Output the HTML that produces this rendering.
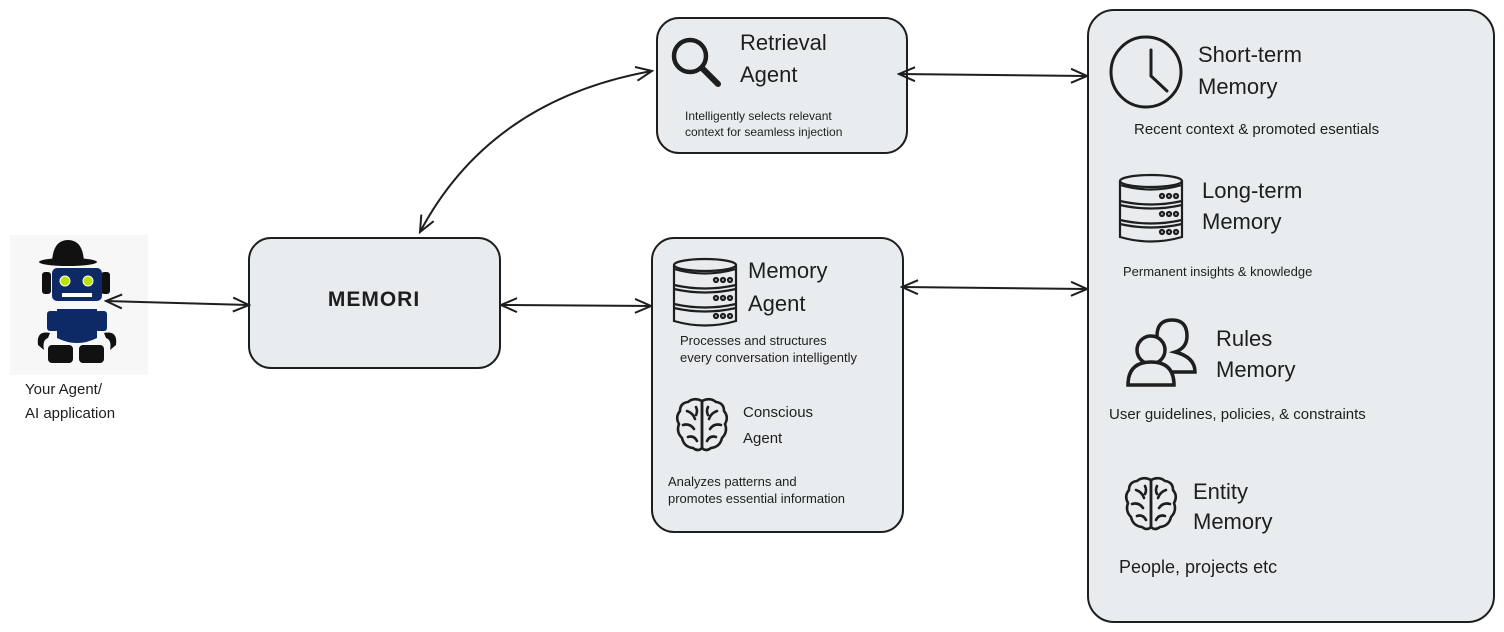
<!DOCTYPE html>
<html><head><meta charset="utf-8"><style>
html,body{margin:0;padding:0;background:#fff;}
svg{display:block;}
text{font-family:"Liberation Sans",sans-serif;fill:#1e1e1e;}
.t{font-size:22px;}
.s{font-size:13px;}
.m{font-size:15px;}
</style></head><body>
<svg width="1504" height="632" viewBox="0 0 1504 632" xmlns="http://www.w3.org/2000/svg">
<defs>
<g id="db" fill="none" stroke="#1e1e1e" stroke-width="2.2">
  <ellipse cx="32" cy="7" rx="31" ry="6"/>
  <path d="M1 7 V63 Q32 72 63 63 V7"/>
  <path d="M1 11 Q32 20 63 11"/>
  <path d="M1 27 Q32 34 63 27"/>
  <path d="M1 31 Q32 38 63 31"/>
  <path d="M1 46 Q32 53 63 46"/>
  <path d="M1 50 Q32 57 63 50"/>
  <circle cx="43" cy="22" r="2"/><circle cx="50" cy="22" r="2"/><circle cx="57" cy="22" r="2"/>
  <circle cx="43" cy="40" r="2"/><circle cx="50" cy="40" r="2"/><circle cx="57" cy="40" r="2"/>
  <circle cx="43" cy="58" r="2"/><circle cx="50" cy="58" r="2"/><circle cx="57" cy="58" r="2"/>
</g>
<g id="brain" fill="none" stroke="#1e1e1e" stroke-width="2.6" stroke-linecap="round">
  <path d="M26 4 Q18 0 12 5 Q4 6 4 14 Q-1 20 3 27 Q0 35 6 41 Q8 50 17 51 Q22 55 26 51 Z"/>
  <path d="M26 4 Q34 0 40 5 Q48 6 48 14 Q53 20 49 27 Q52 35 46 41 Q44 50 35 51 Q30 55 26 51 Z"/>
  <path d="M11 14 Q17 16 19 22 M7 28 Q14 26 18 32 M12 40 Q18 38 21 44 M20 10 Q22 14 20 18"/>
  <path d="M41 14 Q35 16 33 22 M45 28 Q38 26 34 32 M40 40 Q34 38 31 44 M32 10 Q30 14 32 18"/>
</g>
<marker id="ah" viewBox="0 0 20 20" refX="18" refY="10" markerWidth="20" markerHeight="20" markerUnits="userSpaceOnUse" orient="auto-start-reverse">
  <path d="M2 3 L18 10 L2 17" fill="none" stroke="#1e1e1e" stroke-width="2"/>
</marker>
</defs>

<!-- boxes -->
<g fill="#e9ecef" stroke="#1e1e1e" stroke-width="2">
  <rect x="657" y="18" width="250" height="135" rx="22"/>
  <rect x="249" y="238" width="251" height="130" rx="22"/>
  <rect x="652" y="238" width="251" height="294" rx="22"/>
  <rect x="1088" y="10" width="406" height="612" rx="26"/>
</g>

<!-- robot -->
<g>
  <rect x="10" y="235" width="138" height="140" fill="#f7f7f7"/>
  <path d="M52 262 Q53 240 68 240 Q83 240 84 262 Z" fill="#111"/>
  <ellipse cx="68" cy="262" rx="29" ry="4" fill="#111"/>
  <rect x="42" y="272" width="9" height="22" rx="3" fill="#111"/>
  <rect x="101" y="272" width="9" height="22" rx="3" fill="#111"/>
  <rect x="52" y="268" width="50" height="33" rx="5" fill="#0d2a66"/>
  <circle cx="65" cy="281" r="5" fill="#b8e600" stroke="#fff" stroke-width="1"/>
  <circle cx="88" cy="281" r="5" fill="#b8e600" stroke="#fff" stroke-width="1"/>
  <rect x="62" y="293" width="30" height="4" fill="#fff"/>
  <rect x="47" y="311" width="12" height="20" rx="3" fill="#0d2a66"/>
  <rect x="95" y="311" width="12" height="20" rx="3" fill="#0d2a66"/>
  <path d="M57 309 H97 V338 Q77 348 57 338 Z" fill="#0d2a66"/>
  <path d="M38 345 Q36 330 50 333 L48 338 Q42 340 44 350 Z" fill="#111"/>
  <path d="M116 345 Q118 330 104 333 L106 338 Q112 340 110 350 Z" fill="#111"/>
  <rect x="48" y="345" width="25" height="18" rx="4" fill="#111"/>
  <rect x="79" y="345" width="25" height="18" rx="4" fill="#111"/>
</g>

<!-- arrows -->
<g fill="none" stroke="#1e1e1e" stroke-width="2" marker-start="url(#ah)" marker-end="url(#ah)">
  <line x1="106" y1="301" x2="249" y2="305"/>
  <line x1="501" y1="305" x2="651" y2="306"/>
  <path d="M420 232 Q490 100 652 71"/>
  <line x1="899" y1="74" x2="1087" y2="76"/>
  <line x1="902" y1="287" x2="1087" y2="289"/>
</g>

<text class="m" x="25" y="394">Your Agent/</text>
<text class="m" x="25" y="418">AI application</text>

<!-- MEMORI -->
<text class="t" x="374" y="306" text-anchor="middle" font-weight="bold" style="font-size:21px;letter-spacing:1px">MEMORI</text>

<!-- Retrieval -->
<g fill="none" stroke="#1e1e1e" stroke-width="4.5">
  <circle cx="690" cy="56" r="16"/>
  <line x1="702" y1="68" x2="718" y2="84" stroke-width="6" stroke-linecap="round"/>
</g>
<text class="t" x="740" y="50">Retrieval</text>
<text class="t" x="740" y="82">Agent</text>
<text class="s" x="685" y="120" style="font-size:12px">Intelligently selects relevant</text>
<text class="s" x="685" y="136" style="font-size:12px">context for seamless injection</text>

<!-- Memory agent -->
<use href="#db" x="673" y="258"/>
<text class="t" x="748" y="278">Memory</text>
<text class="t" x="748" y="311">Agent</text>
<text class="s" x="680" y="345">Processes and structures</text>
<text class="s" x="680" y="362">every conversation intelligently</text>
<use href="#brain" x="676" y="397"/>
<text class="m" x="743" y="417">Conscious</text>
<text class="m" x="743" y="443">Agent</text>
<text class="s" x="668" y="486">Analyzes patterns and</text>
<text class="s" x="668" y="503">promotes essential information</text>

<!-- right panel -->
<g fill="none" stroke="#1e1e1e" stroke-width="3">
  <circle cx="1146" cy="72" r="35"/>
  <path d="M1151 50 V76 L1167 91" stroke-linecap="round"/>
</g>
<text class="t" x="1198" y="62">Short-term</text>
<text class="t" x="1198" y="94">Memory</text>
<text class="m" x="1134" y="134">Recent context &amp; promoted esentials</text>

<use href="#db" x="1119" y="174"/>
<text class="t" x="1202" y="198">Long-term</text>
<text class="t" x="1202" y="229">Memory</text>
<text class="s" x="1123" y="276">Permanent insights &amp; knowledge</text>

<g fill="none" stroke="#1e1e1e" stroke-width="3.5">
  <path d="M1157 336 Q1157 320 1172 320 Q1187 320 1187 336 Q1187 348 1175 352 Q1195 357 1195 372 H1172"/>
  <circle cx="1151" cy="350" r="14" fill="#e9ecef"/>
  <path d="M1128 385 Q1128 362 1151 362 Q1174 362 1174 385 Z" fill="#e9ecef"/>
</g>
<text class="t" x="1216" y="346">Rules</text>
<text class="t" x="1216" y="377">Memory</text>
<text class="m" x="1109" y="419">User guidelines, policies, &amp; constraints</text>

<use href="#brain" x="1125" y="476"/>
<text class="t" x="1193" y="499">Entity</text>
<text class="t" x="1193" y="529">Memory</text>
<text class="m" x="1119" y="573" style="font-size:18px">People, projects etc</text>
</svg>
</body></html>
